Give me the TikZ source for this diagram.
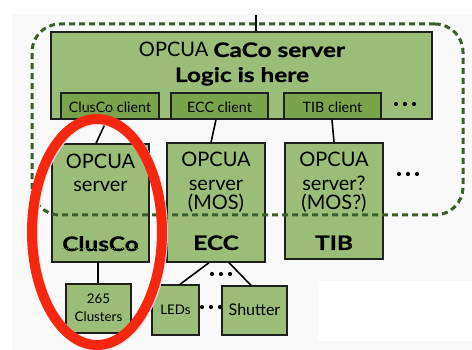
\documentclass[tikz,border=0pt]{standalone}
\usepackage{fontspec}
\setmainfont{Lato}[BoldFeatures={FakeStretch=1.22, FakeBold=0.8}]
\definecolor{boxgreen}{HTML}{9CBD78}
\definecolor{clientgreen}{HTML}{7AA44C}
\definecolor{framegreen}{HTML}{3B5E2B}
\definecolor{spellgreen}{HTML}{4C8C3C}
\definecolor{ringred}{HTML}{F7260F}
\definecolor{paper}{HTML}{F9F9F9}
\begin{document}
\begin{tikzpicture}[x=1pt,y=-1pt,
  box/.style={draw=black!88, line width=1.3pt, fill=boxgreen, inner sep=0pt},
  client/.style={box, fill=clientgreen},
  frame/.style={draw=framegreen, line width=3pt, dash pattern=on 6pt off 4pt,
    rounded corners=28pt, inner sep=0pt},
  link/.style={draw=black, line width=1.6pt},
  txt/.style={inner sep=0pt, anchor=base},
  big/.style={txt, font=\fontsize{20}{23}\selectfont},
  mid/.style={txt, font=\fontsize{14.3}{16}\selectfont},
  small/.style={txt, font=\fontsize{13.3}{15}\selectfont},
  spell/.style={draw=spellgreen, line width=0.8pt, dash pattern=on 1pt off 1pt},
  dots/.pic={\foreach \k in {-9,0,9} \fill (\k,0) circle[radius=2.1pt];}
]
\useasboundingbox (0,0) rectangle (472,350);
\clip (0,0) rectangle (472,350);

% page background
\fill[white] (0,0) rectangle (472,350);
\fill[paper] (12,14) rectangle (472,350);
\fill[white] (318,281) rectangle (472,341);

% central server with its clients
\node[box, minimum width=381, minimum height=87] (caco) at (241.5,75.5) {};
\coordinate (up) at (256,15);
\draw[link] (up) -- (caco.north -| up);
\node[big] (t1) at (242,57) {OPCUA \textbf{CaCo server}};
\node[big] (t2) at (242,82) {\textbf{Logic is here}};

\node[client, minimum width=98, minimum height=26] (ccl) at (110,106) {};
\node[client, minimum width=97, minimum height=26] (ecl) at (219.5,106) {};
\node[client, minimum width=97, minimum height=26] (tcl) at (332.5,106) {};
\node[mid] (lccl) at (110,113) {ClusCo client};
\node[mid] (lecl) at (219.5,113) {ECC client};
\node[mid] (ltcl) at (332.5,113) {TIB client};
\draw[spell] ([yshift=2.5pt]lccl.base west) -- ++(50,0);
\pic at (405,104) {dots};

% device servers
\node[box, minimum width=97, minimum height=118] (cs) at (100.5,203) {};
\node[box, minimum width=98, minimum height=119] (es) at (216,202.5) {};
\node[box, minimum width=98, minimum height=116] (ts) at (334,201) {};

\node[big] (cs1) at (100.5,169) {OPCUA};
\node[big] (cs2) at (100.5,192) {server};
\node[big] (cs3) at (100.5,251) {\textbf{ClusCo}};
\draw[spell] ([yshift=3pt]cs3.base west) -- ([yshift=3pt]cs3.base east);

\node[big] (es1) at (216,167) {OPCUA};
\node[big] (es2) at (216,191) {server};
\node[big] (es3) at (216,210) {(MOS)};
\node[big] (es4) at (216,250) {\textbf{ECC}};

\node[big] (ts1) at (334,167) {OPCUA};
\node[big] (ts2) at (334,191) {server?};
\node[big] (ts3) at (334,210) {(MOS?)};
\node[big] (ts4) at (334,250) {\textbf{TIB}};
\pic at (408,174) {dots};

\draw[link] ([xshift=-3pt]ccl.south) -- ([xshift=-4.5pt]cs.north);
\draw[link] ([xshift=-3.5pt]ecl.south) -- ([xshift=-5pt]es.north);
\draw[link] ([xshift=-0.5pt]tcl.south) -- (ts.north);

% hardware below
\node[box, minimum width=65, minimum height=49] (cl) at (98.5,308.5) {};
\node[box, minimum width=47, minimum height=50] (led) at (175.5,310) {};
\node[box, minimum width=65, minimum height=49] (sh) at (254.5,310.5) {};
\node[small] (cl1) at (98.5,304) {265};
\node[small] (cl2) at (98.5,322) {Clusters};
\node[small] (led1) at (175.5,315) {LEDs};
\node[txt, font=\fontsize{16}{18}\selectfont] (sh1) at (254.5,316) {Shutter};
\pic at (221,274) {dots};
\pic at (211,307) {dots};

\draw[link] ([xshift=-2.5pt]cs.south) -- ([xshift=-0.5pt]cl.north);
\draw[link] ([xshift=-7pt]es.south) -- ([xshift=4.5pt]led.north);
\draw[link] ([xshift=13pt]es.south) -- ([xshift=-3.5pt]sh.north);

% control system boundary
\node[frame, minimum width=431, minimum height=191] (fr) at (247.5,119.5) {};

% highlight ring with its soft shadow
\draw[black!12, line width=10pt] (98,233) ellipse[x radius=65, y radius=113];
\draw[ringred, line width=10pt] (97,232) ellipse[x radius=65, y radius=113];
\end{tikzpicture}
\end{document}
